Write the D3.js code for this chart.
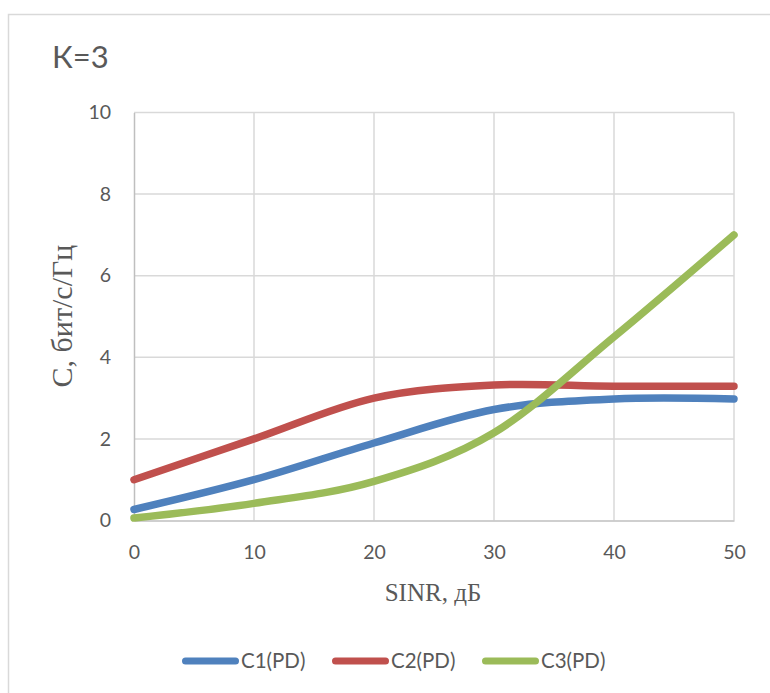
<!DOCTYPE html>
<html>
<head>
<meta charset="utf-8">
<script src="https://cdn.jsdelivr.net/npm/d3@7"></script>
<style>
  html, body { margin: 0; padding: 0; background: #fff; }
  svg { display: block; }
</style>
</head>
<body>
<svg id="chart" width="770" height="693"></svg>
<script>
// SINR values (dB) along the horizontal axis
const sinr = [0, 10, 20, 30, 40, 50];
// Spectral efficiency series, bit/s/Hz
const c1 = [0.27, 1.0, 1.9, 2.72, 2.98, 2.98];
const c2 = [1.0, 2.0, 3.0, 3.32, 3.29, 3.29];
const c3 = [0.06, 0.42, 0.96, 2.15, 4.5, 7.0];
const seriesNames = ["С1(PD)", "С2(PD)", "С3(PD)"];
const seriesColors = ["#4F81BD", "#C0504D", "#9BBB59"];
const xTicks = [0, 10, 20, 30, 40, 50];
const yTicks = [0, 2, 4, 6, 8, 10];

const series = [c1, c2, c3].map((vals, i) => ({
  name: seriesNames[i],
  color: seriesColors[i],
  points: vals.map((v, j) => ({ x: sinr[j], y: v }))
}));

const svg = d3.select("#chart");
const sans = "Lato, 'Open Sans', sans-serif";
const serif = "'Liberation Serif', 'DejaVu Serif', serif";
const textColor = "#595959";

// outer chart frame (runs off the right and bottom edges)
svg.append("rect")
  .attr("x", 8.5).attr("y", 14.5)
  .attr("width", 800).attr("height", 720)
  .attr("fill", "#fff")
  .attr("stroke", "#D9D9D9").attr("stroke-width", 1.5);

const plot = { left: 134, right: 734, top: 112.5, bottom: 520.5 };

const x = d3.scaleLinear().domain([0, 50]).range([plot.left, plot.right]);
const y = d3.scaleLinear().domain([0, 10]).range([plot.bottom, plot.top]);

// gridlines
const grid = svg.append("g").attr("stroke", "#D9D9D9").attr("stroke-width", 1.5);
grid.selectAll("line.h").data(yTicks.filter(t => t > 0)).join("line")
  .attr("class", "h")
  .attr("x1", plot.left).attr("x2", plot.right)
  .attr("y1", d => y(d)).attr("y2", d => y(d));
grid.selectAll("line.v").data(xTicks.filter(t => t > 0)).join("line")
  .attr("class", "v")
  .attr("x1", d => x(d)).attr("x2", d => x(d))
  .attr("y1", plot.top).attr("y2", plot.bottom);

// axes: tick labels only, domain drawn as gray lines
const xAxis = d3.axisBottom(x).tickValues(xTicks).tickSize(0).tickPadding(25);
const yAxis = d3.axisLeft(y).tickValues(yTicks).tickSize(0).tickPadding(23);

const gx = svg.append("g").attr("transform", `translate(0,${plot.bottom})`).call(xAxis);
const gy = svg.append("g").attr("transform", `translate(${plot.left},0)`).call(yAxis);
[gx, gy].forEach(g => {
  g.select(".domain").attr("stroke", "#BFBFBF").attr("stroke-width", 1.5);
  g.selectAll("text")
    .attr("fill", textColor)
    .style("font-family", sans)
    .style("font-size", "19.5px");
});

// series lines, smoothed
const line = d3.line()
  .x(d => x(d.x))
  .y(d => y(d.y))
  .curve(d3.curveCatmullRom.alpha(0));

svg.append("g").selectAll("path").data(series).join("path")
  .attr("d", d => line(d.points))
  .attr("fill", "none")
  .attr("stroke", d => d.color)
  .attr("stroke-width", 7.5)
  .attr("stroke-linecap", "round")
  .attr("stroke-linejoin", "round");

// title
svg.append("text")
  .attr("x", 52).attr("y", 68)
  .attr("fill", textColor)
  .style("font-family", sans)
  .style("font-size", "31px")
  .text("К=3");

// axis titles
svg.append("text")
  .attr("transform", "translate(72,316) rotate(-90)")
  .attr("text-anchor", "middle")
  .attr("fill", textColor)
  .style("font-family", serif)
  .style("font-size", "30px")
  .text("С, бит/с/Гц");

svg.append("text")
  .attr("x", 433).attr("y", 601)
  .attr("text-anchor", "middle")
  .attr("fill", textColor)
  .style("font-family", serif)
  .style("font-size", "25px")
  .text("SINR, дБ");

// legend
const legendX = [182, 332, 482];
const legend = svg.append("g").selectAll("g").data(series).join("g")
  .attr("transform", (d, i) => `translate(${legendX[i]},661)`);
legend.append("line")
  .attr("x1", 3.5).attr("x2", 53.5)
  .attr("y1", 0).attr("y2", 0)
  .attr("stroke", d => d.color)
  .attr("stroke-width", 7)
  .attr("stroke-linecap", "round");
legend.append("text")
  .attr("x", 59).attr("y", 0)
  .attr("dy", "0.35em")
  .attr("fill", textColor)
  .style("font-family", sans)
  .style("font-size", "20.5px")
  .text(d => d.name);
</script>
</body>
</html>
